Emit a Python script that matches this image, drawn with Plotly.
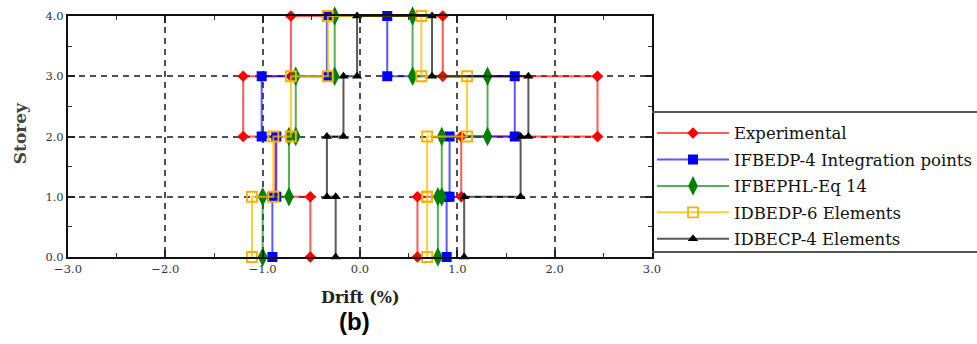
import plotly.graph_objects as go

storeys = [0, 1, 2, 3, 4]
series_names = ["Experimental", "IFBEDP-4 Integration points", "IFBEPHL-Eq 14",
                "IDBEDP-6 Elements", "IDBECP-4 Elements"]

# drift (%) per storey interval (storey 0-1, 1-2, 2-3, 3-4)
exp_neg = [-0.51, -0.87, -1.20, -0.71]
exp_pos = [0.59, 1.04, 2.44, 0.85]
ifbedp_neg = [-0.90, -0.86, -1.01, -0.34]
ifbedp_pos = [0.89, 0.92, 1.59, 0.28]
ifbephl_neg = [-1.00, -0.73, -0.66, -0.26]
ifbephl_pos = [0.80, 0.84, 1.31, 0.54]
idbedp_neg = [-1.11, -0.89, -0.71, -0.33]
idbedp_pos = [0.69, 0.69, 1.10, 0.63]
idbecp_neg = [-0.25, -0.34, -0.17, -0.03]
idbecp_pos = [1.07, 1.65, 1.73, 0.74]

x_range = [-3.0, 3.0]
y_range = [0.0, 4.0]

neg_all = [exp_neg, ifbedp_neg, ifbephl_neg, idbedp_neg, idbecp_neg]
pos_all = [exp_pos, ifbedp_pos, ifbephl_pos, idbedp_pos, idbecp_pos]

styles = [
    dict(line="rgba(255,0,0,0.65)", mc="#ff0000", sym="diamond", size=9, open=False),
    dict(line="rgba(0,0,255,0.65)", mc="#0000ff", sym="square", size=10, open=False),
    dict(line="rgba(0,128,0,0.65)", mc="#008000", sym="diamond-tall", size=14, open=False),
    dict(line="rgba(255,185,0,0.75)", mc="#ffb000", sym="square-open", size=10, open=True),
    dict(line="rgba(0,0,0,0.65)", mc="#000000", sym="triangle-up", size=9, open=False),
]


def profile(neg, pos):
    xs, ys = [], []
    for i, d in enumerate(neg):
        xs += [d, d]
        ys += [storeys[i], storeys[i + 1]]
    for i in range(len(pos) - 1, -1, -1):
        xs += [pos[i], pos[i]]
        ys += [storeys[i + 1], storeys[i]]
    return xs, ys


fig = go.Figure()
for k, name in enumerate(series_names):
    xs, ys = profile(neg_all[k], pos_all[k])
    st = styles[k]
    marker = dict(symbol=st["sym"], size=st["size"], color=st["mc"])
    if st["open"]:
        marker["line"] = dict(color=st["mc"], width=1.8)
    else:
        marker["line"] = dict(width=0)
    fig.add_trace(go.Scatter(
        x=xs, y=ys, mode="lines+markers", name=name,
        line=dict(color=st["line"], width=2),
        marker=marker, cliponaxis=False, legendgroup=name,
    ))

grid_col = "#505050"
tick_font = dict(family="DejaVu Serif", size=11.5, color="#333333")
axis_common = dict(
    tickmode="linear", dtick=1, tickformat=".1f",
    showgrid=True, gridcolor=grid_col, griddash="6px,5px", gridwidth=1.6,
    showline=True, linecolor="#111111", linewidth=2, mirror="ticks",
    ticks="inside", ticklen=7, tickwidth=1.5, tickcolor="#222222",
    minor=dict(ticks="inside", ticklen=4, tickwidth=1.2, tickcolor="#333333",
               dtick=0.5, showgrid=False),
    tickfont=tick_font, zeroline=False,
)
fig.update_xaxes(range=x_range, tick0=-3, **axis_common)
fig.update_yaxes(range=y_range, tick0=0, **axis_common)

fig.update_layout(
    width=977, height=344,
    margin=dict(l=68, r=325, t=16, b=87, autoexpand=False),
    plot_bgcolor="white", paper_bgcolor="white",
    showlegend=True,
    legend=dict(
        x=1.0, y=0.586, xanchor="left", yanchor="top",
        font=dict(family="DejaVu Serif", size=16.5, color="#111111"),
        itemwidth=72, tracegroupgap=2, traceorder="grouped",
        bgcolor="rgba(0,0,0,0)", borderwidth=0,
    ),
    shapes=[
        dict(type="line", xref="paper", yref="paper", x0=1.0, x1=1.6, y0=0.602, y1=0.602,
             line=dict(color="#555555", width=2)),
        dict(type="line", xref="paper", yref="paper", x0=1.0, x1=1.6, y0=0.021, y1=0.021,
             line=dict(color="#555555", width=2)),
    ],
    annotations=[
        dict(text="<b>Drift (%)</b>", xref="paper", yref="paper", x=0.5, y=-0.166,
             showarrow=False, xanchor="center", yanchor="middle",
             font=dict(family="DejaVu Serif", size=16, color="#222222")),
        dict(text="<b>Storey</b>", xref="paper", yref="paper", x=-0.082, y=0.514,
             showarrow=False, textangle=-90, xanchor="center", yanchor="middle",
             font=dict(family="DejaVu Serif", size=17, color="#444444")),
        dict(text="<b>(b)</b>", xref="paper", yref="paper", x=0.491, y=-0.268,
             showarrow=False, xanchor="center", yanchor="middle",
             font=dict(family="Liberation Sans", size=24, color="#000000")),
    ],
)

fig.write_html("out.html", config={"displayModeBar": False},
               post_script="document.body.style.margin='0';")
